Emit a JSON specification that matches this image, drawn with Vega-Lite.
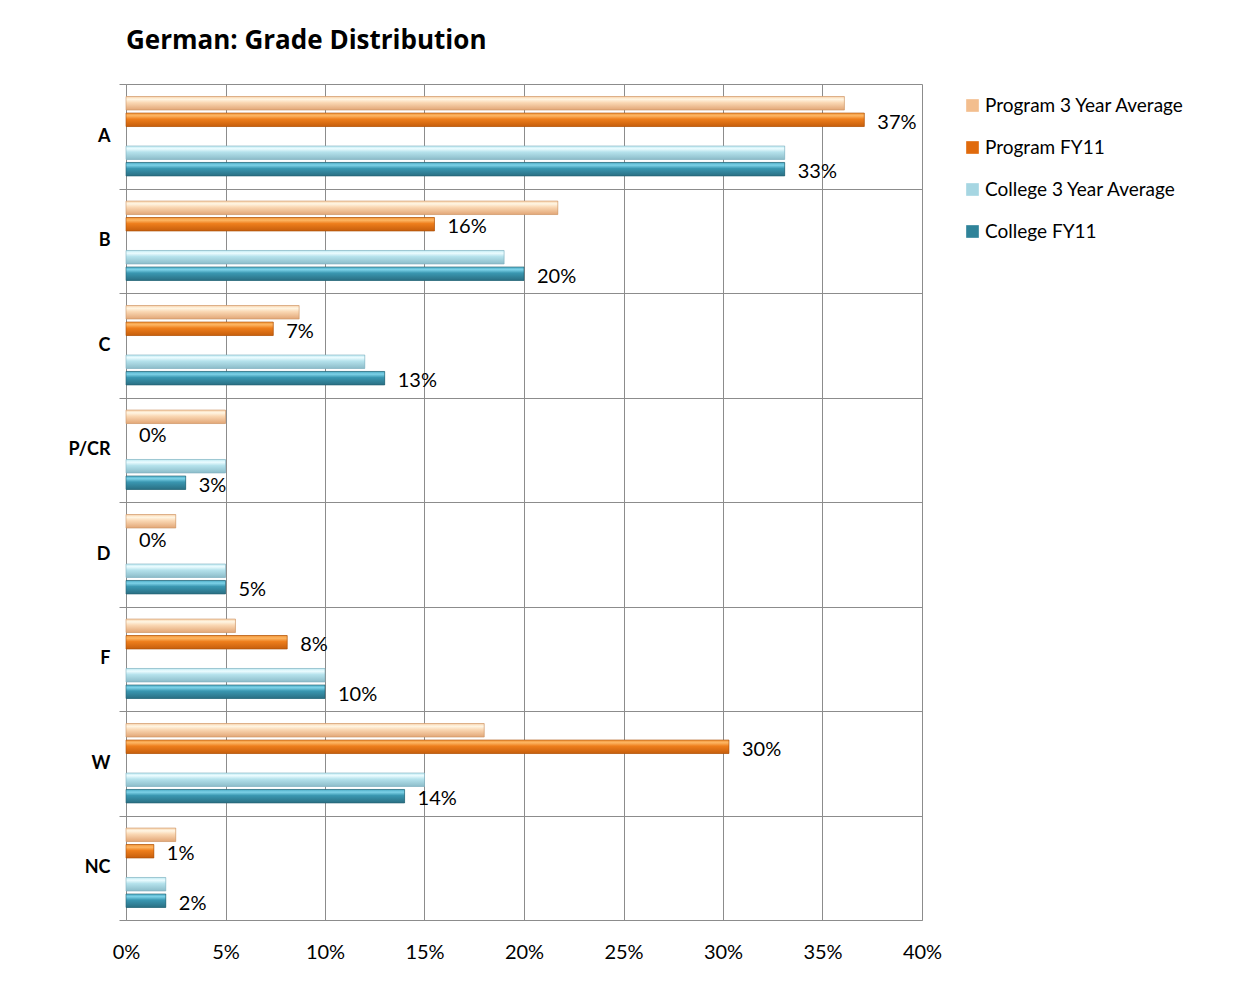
{
  "$schema": "https://vega.github.io/schema/vega-lite/v6.json",
  "width": 796,
  "height": 836,
  "autosize": {"type": "none"},
  "padding": {"left": 126, "top": 84, "right": 328, "bottom": 87},
  "background": "white",
  "title": {
    "text": "German: Grade Distribution",
    "anchor": "start",
    "frame": "group",
    "offset": 21,
    "font": "Open Sans",
    "fontSize": 26,
    "fontWeight": "bold",
    "color": "#000000"
  },
  "config": {
    "view": {"stroke": null},
    "font": "Lato"
  },
  "data": {
    "values": [
      {"grade": "A", "series": "Program 3 Year Average", "value": 0.361},
      {"grade": "A", "series": "Program FY11", "value": 0.371},
      {"grade": "A", "series": "College 3 Year Average", "value": 0.331},
      {"grade": "A", "series": "College FY11", "value": 0.331},
      {"grade": "B", "series": "Program 3 Year Average", "value": 0.217},
      {"grade": "B", "series": "Program FY11", "value": 0.155},
      {"grade": "B", "series": "College 3 Year Average", "value": 0.19},
      {"grade": "B", "series": "College FY11", "value": 0.2},
      {"grade": "C", "series": "Program 3 Year Average", "value": 0.087},
      {"grade": "C", "series": "Program FY11", "value": 0.074},
      {"grade": "C", "series": "College 3 Year Average", "value": 0.12},
      {"grade": "C", "series": "College FY11", "value": 0.13},
      {"grade": "P/CR", "series": "Program 3 Year Average", "value": 0.05},
      {"grade": "P/CR", "series": "Program FY11", "value": 0},
      {"grade": "P/CR", "series": "College 3 Year Average", "value": 0.05},
      {"grade": "P/CR", "series": "College FY11", "value": 0.03},
      {"grade": "D", "series": "Program 3 Year Average", "value": 0.025},
      {"grade": "D", "series": "Program FY11", "value": 0},
      {"grade": "D", "series": "College 3 Year Average", "value": 0.05},
      {"grade": "D", "series": "College FY11", "value": 0.05},
      {"grade": "F", "series": "Program 3 Year Average", "value": 0.055},
      {"grade": "F", "series": "Program FY11", "value": 0.081},
      {"grade": "F", "series": "College 3 Year Average", "value": 0.1},
      {"grade": "F", "series": "College FY11", "value": 0.1},
      {"grade": "W", "series": "Program 3 Year Average", "value": 0.18},
      {"grade": "W", "series": "Program FY11", "value": 0.303},
      {"grade": "W", "series": "College 3 Year Average", "value": 0.15},
      {"grade": "W", "series": "College FY11", "value": 0.14},
      {"grade": "NC", "series": "Program 3 Year Average", "value": 0.025},
      {"grade": "NC", "series": "Program FY11", "value": 0.014},
      {"grade": "NC", "series": "College 3 Year Average", "value": 0.02},
      {"grade": "NC", "series": "College FY11", "value": 0.02}
    ]
  },
  "encoding": {
    "y": {
      "field": "grade",
      "type": "nominal",
      "sort": ["A", "B", "C", "P/CR", "D", "F", "W", "NC"],
      "scale": {"paddingInner": 0, "paddingOuter": 0},
      "axis": {
        "title": null,
        "tickBand": "extent",
        "grid": true,
        "gridColor": "#8c8c8c",
        "gridWidth": 1,
        "domainColor": "#8c8c8c",
        "tickColor": "#8c8c8c",
        "tickSize": 7,
        "labelFont": "Lato",
        "labelFontSize": 18,
        "labelFontWeight": "bold",
        "labelColor": "#000000",
        "labelPadding": 9
      }
    },
    "yOffset": {
      "field": "series",
      "type": "nominal",
      "scale": {
        "domain": ["Program 3 Year Average", "Program FY11", "gap", "College 3 Year Average", "College FY11"],
        "paddingInner": 0.18,
        "paddingOuter": 0.76
      }
    },
    "x": {
      "field": "value",
      "type": "quantitative",
      "scale": {"domain": [0, 0.4], "nice": false},
      "axis": {
        "title": null,
        "values": [0, 0.05, 0.1, 0.15, 0.2, 0.25, 0.3, 0.35, 0.4],
        "format": ".0%",
        "grid": true,
        "gridColor": "#8c8c8c",
        "gridWidth": 1,
        "domainColor": "#8c8c8c",
        "ticks": false,
        "labelFlush": false,
        "labelFont": "Lato",
        "labelFontSize": 20,
        "labelColor": "#000000",
        "labelPadding": 22
      }
    }
  },
  "layer": [
    {
      "mark": {"type": "bar"},
      "encoding": {
        "color": {
          "field": "series",
          "type": "nominal",
          "scale": {
            "domain": ["Program 3 Year Average", "Program FY11", "College 3 Year Average", "College FY11"],
            "range": ["#F3BE8E", "#E06A0C", "#A6D6E2", "#2F8399"]
          },
          "legend": {
            "title": null,
            "orient": "none",
            "legendX": 837,
            "legendY": 12,
            "symbolType": "square",
            "symbolSize": 160,
            "symbolStrokeWidth": 0,
            "labelFont": "Lato",
            "labelFontSize": 19,
            "labelLimit": 0,
            "labelColor": "#000000",
            "labelOffset": 3,
            "rowPadding": 22
          }
        }
      }
    },
    {
      "transform": [{"filter": "datum.series === 'Program 3 Year Average'"}],
      "mark": {
        "type": "bar",
        "stroke": "#C99466",
        "strokeWidth": 0.6,
        "color": {
          "gradient": "linear", "x1": 0, "y1": 0, "x2": 0, "y2": 1,
          "stops": [
            {"offset": 0, "color": "#F8D2AA"},
            {"offset": 0.2, "color": "#FFF6E4"},
            {"offset": 0.45, "color": "#FAD8B4"},
            {"offset": 1, "color": "#E2A676"}
          ]
        }
      }
    },
    {
      "transform": [{"filter": "datum.series === 'Program FY11' && datum.value > 0"}],
      "mark": {
        "type": "bar",
        "stroke": "#A84F08",
        "strokeWidth": 0.6,
        "color": {
          "gradient": "linear", "x1": 0, "y1": 0, "x2": 0, "y2": 1,
          "stops": [
            {"offset": 0, "color": "#F29436"},
            {"offset": 0.2, "color": "#FDB664"},
            {"offset": 0.45, "color": "#EE7E1C"},
            {"offset": 1, "color": "#C65E0C"}
          ]
        }
      }
    },
    {
      "transform": [{"filter": "datum.series === 'College 3 Year Average'"}],
      "mark": {
        "type": "bar",
        "stroke": "#7FAFBD",
        "strokeWidth": 0.6,
        "color": {
          "gradient": "linear", "x1": 0, "y1": 0, "x2": 0, "y2": 1,
          "stops": [
            {"offset": 0, "color": "#BDE9F2"},
            {"offset": 0.2, "color": "#ECFCFF"},
            {"offset": 0.45, "color": "#B5E2EC"},
            {"offset": 1, "color": "#8CBCC9"}
          ]
        }
      }
    },
    {
      "transform": [{"filter": "datum.series === 'College FY11'"}],
      "mark": {
        "type": "bar",
        "stroke": "#23606F",
        "strokeWidth": 0.6,
        "color": {
          "gradient": "linear", "x1": 0, "y1": 0, "x2": 0, "y2": 1,
          "stops": [
            {"offset": 0, "color": "#4BAAC4"},
            {"offset": 0.2, "color": "#7DD2E8"},
            {"offset": 0.45, "color": "#3A97B1"},
            {"offset": 1, "color": "#2A6F83"}
          ]
        }
      }
    },
    {
      "transform": [{"filter": "datum.series === 'Program FY11' || datum.series === 'College FY11'"}],
      "mark": {
        "type": "text",
        "align": "left",
        "baseline": "middle",
        "dx": 13,
        "dy": 3,
        "font": "Lato",
        "fontSize": 20,
        "color": "#000000"
      },
      "encoding": {
        "text": {"field": "value", "type": "quantitative", "format": ".0%"}
      }
    }
  ]
}
